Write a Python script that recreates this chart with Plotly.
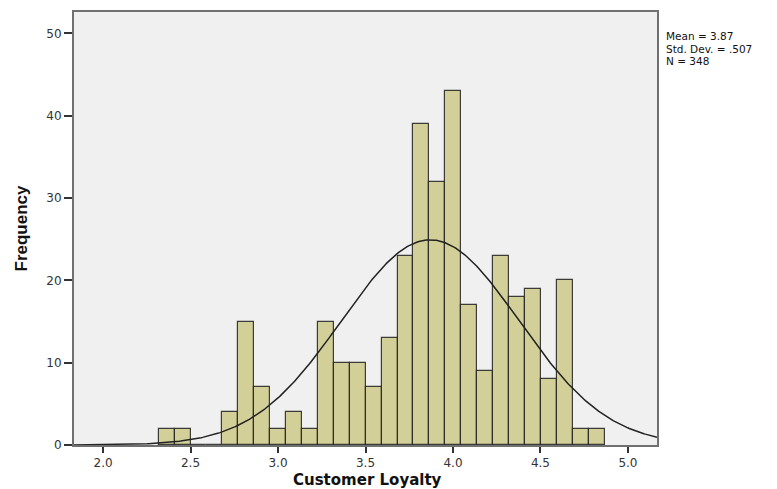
import numpy as np
import plotly.graph_objects as go

# Histogram data
bin_start = 2.318
bin_width = 0.091
counts = [2, 2, 0, 0, 4, 15, 7, 2, 4, 2, 15, 10, 10, 7, 13, 23, 39, 32, 43,
          17, 9, 23, 18, 19, 8, 20, 2, 2]
mean_val = 3.87
sd_val = 0.507
n_val = 348
x_ticks = [2.0, 2.5, 3.0, 3.5, 4.0, 4.5, 5.0]
x_tick_labels = ["2.0", "2.5", "3.0", "3.5", "4.0", "4.5", "5.0"]
y_ticks = [0, 10, 20, 30, 40, 50]
x_range = [1.834, 5.166]
y_range = [0, 52.6]

lefts = [bin_start + i * bin_width for i in range(len(counts))]

fig = go.Figure()
fig.add_trace(go.Bar(
    x=lefts, y=counts, width=[bin_width] * len(counts), offset=0,
    marker=dict(color="#d3cf98", line=dict(color="rgba(30,30,30,0.85)", width=1.2)),
    hoverinfo="x+y", showlegend=False,
))

xs = np.linspace(x_range[0], x_range[1], 400)
ys = n_val * bin_width / (sd_val * np.sqrt(2 * np.pi)) * np.exp(-0.5 * ((xs - mean_val) / sd_val) ** 2)
fig.add_trace(go.Scatter(x=xs, y=ys, mode="lines", line=dict(color="#222222", width=1.5),
                         showlegend=False, hoverinfo="skip"))

tickfont = dict(family="DejaVu Sans, Verdana, sans-serif", size=12, color="#333333")
# page body has an 8px margin, so the figure is offset by 8px in the window
fig.update_layout(
    width=777, height=489,
    margin=dict(l=66, r=128, t=4, b=52),
    paper_bgcolor="white", plot_bgcolor="#f0f0f0",
    bargap=0,
    xaxis=dict(range=x_range, tickvals=x_ticks, ticktext=x_tick_labels, ticks="outside",
               ticklen=6, tickcolor="#333333", tickwidth=1.5, showgrid=False, zeroline=False,
               showline=True, linecolor="#707070", linewidth=2, mirror=True, tickfont=tickfont,
               automargin=False, title=dict(text="")),
    yaxis=dict(range=y_range, tickvals=y_ticks, ticks="outside", ticklen=8, tickcolor="#333333",
               tickwidth=1.5, showgrid=False, zeroline=False, showline=True, linecolor="#707070",
               linewidth=2, mirror=True, tickfont=tickfont, automargin=False, title=dict(text="")),
)

fig.add_annotation(text="<b>Customer Loyalty</b>", xref="paper", yref="paper",
                   x=(367 - 74) / 583, y=-(469 - 445) / 433, xanchor="center", yanchor="top",
                   showarrow=False,
                   font=dict(family="DejaVu Sans, Verdana, sans-serif", size=15, color="#111111"))
fig.add_annotation(text="<b>Frequency</b>", xref="paper", yref="paper",
                   x=-(74 - 10) / 583, y=(445 - 228) / 433, xanchor="left", yanchor="middle",
                   textangle=-90, showarrow=False,
                   font=dict(family="Liberation Sans Narrow, Arial Narrow, Liberation Sans, sans-serif",
                             size=17, color="#111111"))

stats_lines = ["Mean = 3.87", "Std. Dev. = .507", "N = 348"]
for i, t in enumerate(stats_lines):
    fig.add_annotation(text=t, xref="paper", yref="paper", x=(664 - 74) / 583,
                       y=(445 - 28 - i * 12.5) / 433,
                       xanchor="left", yanchor="top", showarrow=False,
                       font=dict(family="DejaVu Sans, Verdana, sans-serif", size=10.5, color="#111111"))

fig.write_html("out.html")
